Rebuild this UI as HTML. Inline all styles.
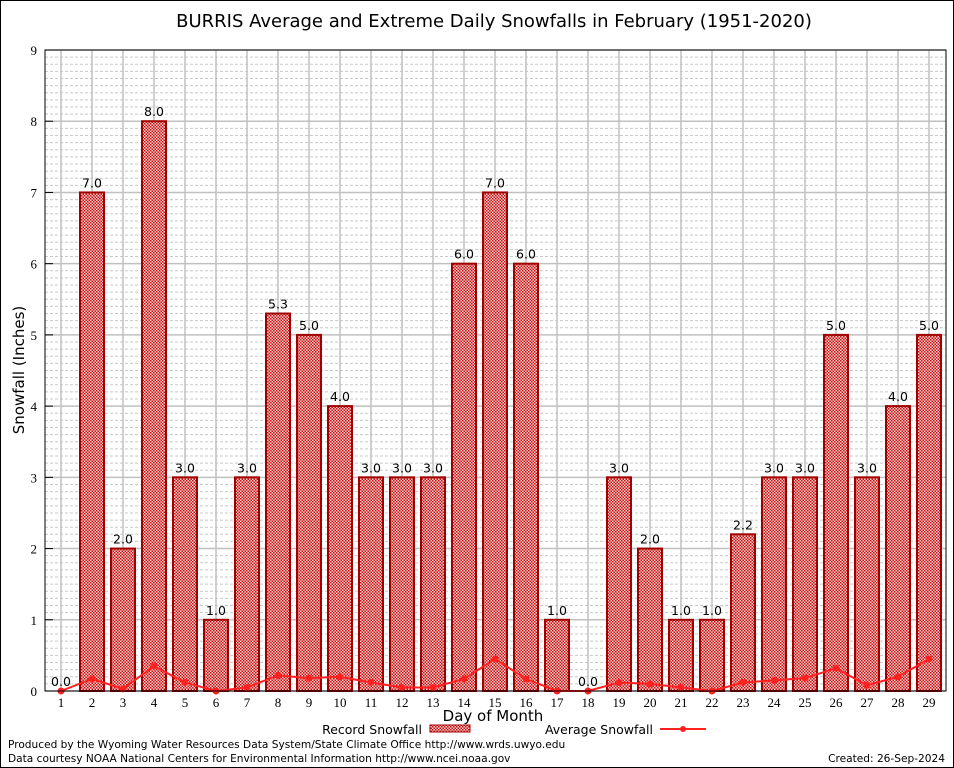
<!DOCTYPE html>
<html><head><meta charset="utf-8"><style>
body{margin:0;background:#fff}
svg{display:block}
</style></head><body>
<svg id="c" width="954" height="768" xmlns="http://www.w3.org/2000/svg">
<defs>
<pattern id="chk" width="3" height="3" patternUnits="userSpaceOnUse">
<rect width="3" height="3" fill="#f8d0d0"/>
<rect width="1.5" height="1.5" fill="#c81010"/>
<rect x="1.5" y="1.5" width="1.5" height="1.5" fill="#c81010"/>
</pattern>
</defs>
<rect x="0.5" y="0.5" width="953" height="767" fill="#fff" stroke="#000"/>
<text x="494" y="27" text-anchor="middle" font-family="DejaVu Sans, sans-serif" font-size="18">BURRIS Average and Extreme Daily Snowfalls in February (1951-2020)</text>
<g id="grid"></g>
<g id="bars"></g>
<g id="avg"></g>
<g id="axes"></g>
<text transform="translate(24,370) rotate(-90)" text-anchor="middle" font-family="DejaVu Sans, sans-serif" font-size="15">Snowfall (Inches)</text>
<text x="493" y="721" text-anchor="middle" font-family="DejaVu Sans, sans-serif" font-size="15">Day of Month</text>
<g font-family="DejaVu Sans, sans-serif" font-size="12.5">
<text x="422" y="734" text-anchor="end">Record Snowfall</text>
<rect x="430" y="725" width="40" height="7" fill="url(#chk)" stroke="#a00000"/>
<text x="653" y="734" text-anchor="end">Average Snowfall</text>
<line x1="660" y1="729" x2="706" y2="729" stroke="#ff2020" stroke-width="2"/>
<circle cx="683" cy="729" r="3" fill="#ff2020"/>
</g>
<g font-family="DejaVu Sans, sans-serif" font-size="10.6">
<text x="8" y="748">Produced by the Wyoming Water Resources Data System/State Climate Office http://www.wrds.uwyo.edu</text>
<text x="8" y="762">Data courtesy NOAA National Centers for Environmental Information http://www.ncei.noaa.gov</text>
<text x="945" y="762" text-anchor="end">Created:  26-Sep-2024</text>
</g>
</svg>
<script>
const days=[1,2,3,4,5,6,7,8,9,10,11,12,13,14,15,16,17,18,19,20,21,22,23,24,25,26,27,28,29];
const recordSnow=[0,7,2,8,3,1,3,5.3,5,4,3,3,3,6,7,6,1,0,3,2,1,1,2.2,3,3,5,3,4,5];
const avgSnow=[0,0.17,0.03,0.35,0.12,0,0.05,0.22,0.18,0.2,0.12,0.05,0.05,0.17,0.45,0.17,0,0,0.12,0.1,0.05,0,0.12,0.15,0.18,0.32,0.08,0.2,0.45];
const yTicks=[0,1,2,3,4,5,6,7,8,9];
const L=45,R=946,T=50,B=691;
const x=d=>61+(d-1)*31;
const y=v=>B-(v/9)*(B-T);
const NS='http://www.w3.org/2000/svg';
function mk(t,a,p){const e=document.createElementNS(NS,t);for(const k in a)e.setAttribute(k,a[k]);document.getElementById(p).appendChild(e);return e;}
for(let i=1;i<90;i++){if(i%10===0)continue;const l=mk('line',{x1:L,x2:R,y1:y(i/10),y2:y(i/10),stroke:'#c8c8c8','stroke-dasharray':'3,2','stroke-width':1},'grid');

}
yTicks.forEach(v=>{const l=mk('line',{x1:L,x2:R,y1:y(v),y2:y(v),stroke:'#c0c0c0','stroke-width':1.5},'grid');


const t=mk('text',{x:L-8,y:y(v)+5,'text-anchor':'end','font-family':'Liberation Serif, serif','font-size':13},'axes');t.textContent=v;


const k=mk('line',{x1:L,x2:L+8,y1:y(v),y2:y(v),stroke:'#000'},'axes');

});
days.forEach((d,i)=>{const l=mk('line',{x1:x(d),x2:x(d),y1:T,y2:B,stroke:'#c0c0c0','stroke-width':1.5},'grid');


const t=mk('text',{x:x(d),y:B+16,'text-anchor':'middle','font-family':'Liberation Serif, serif','font-size':13},'axes');t.textContent=d;


const v=recordSnow[i];
if(v>0){const b=mk('rect',{x:x(d)-12,y:y(v),width:24,height:B-y(v),fill:'url(#chk)',stroke:'#a00000','stroke-width':2},'bars');

}
const lb=mk('text',{x:x(d),y:y(v)-5,'text-anchor':'middle','font-family':'DejaVu Sans, sans-serif','font-size':12.5},'bars');lb.textContent=v.toFixed(1);

});
const pl=mk('polyline',{points:days.map((d,i)=>x(d)+','+y(avgSnow[i])).join(' '),fill:'none',stroke:'#ff2020','stroke-width':2},'avg');


days.forEach((d,i)=>{const c=mk('circle',{cx:x(d),cy:y(avgSnow[i]),r:3.5,fill:'#ff2020'},'avg');

});
const fr=mk('rect',{x:L,y:T,width:R-L,height:B-T,fill:'none',stroke:'#000','stroke-width':1},'axes');


</script>
</body></html>
